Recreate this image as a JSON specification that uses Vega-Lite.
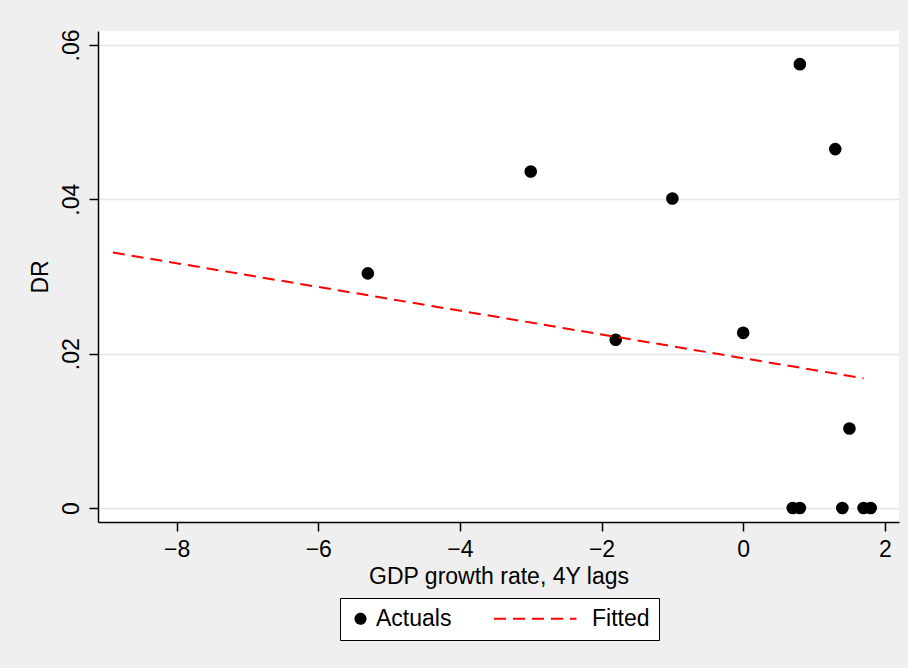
{
  "$schema": "https://vega.github.io/schema/vega-lite/v6.json",
  "width": 801,
  "height": 491,
  "autosize": {"type": "none"},
  "padding": {"left": 98, "top": 31, "right": 9, "bottom": 146},
  "background": "#efefef",
  "config": {
    "view": {"stroke": null, "fill": "white"},
    "font": "Liberation Sans",
    "legend": {
      "orient": "none",
      "legendX": 242,
      "legendY": 567,
      "direction": "horizontal",
      "labelFontSize": 23,
      "labelColor": "black",
      "labelFont": "Liberation Sans",
      "strokeColor": "black",
      "fillColor": "white",
      "padding": 9,
      "columnPadding": 38,
      "symbolStrokeWidth": 2,
      "labelOffset": 4,
      "titleFontSize": 0
    }
  },
  "datasets": {
    "actuals": [
      {"gdp": -5.3, "dr": 0.0304, "series": "Actuals"},
      {"gdp": -3.0, "dr": 0.0436, "series": "Actuals"},
      {"gdp": -1.0, "dr": 0.0401, "series": "Actuals"},
      {"gdp": -1.8, "dr": 0.0218, "series": "Actuals"},
      {"gdp": 0.0, "dr": 0.0227, "series": "Actuals"},
      {"gdp": 0.8, "dr": 0.0575, "series": "Actuals"},
      {"gdp": 1.3, "dr": 0.0465, "series": "Actuals"},
      {"gdp": 1.5, "dr": 0.0103, "series": "Actuals"},
      {"gdp": 0.7, "dr": 0.0, "series": "Actuals"},
      {"gdp": 0.8, "dr": 0.0, "series": "Actuals"},
      {"gdp": 1.4, "dr": 0.0, "series": "Actuals"},
      {"gdp": 1.7, "dr": 0.0, "series": "Actuals"},
      {"gdp": 1.8, "dr": 0.0, "series": "Actuals"}
    ],
    "fitted": [
      {"gdp": -8.9, "dr": 0.0331, "series": "Fitted"},
      {"gdp": 1.7, "dr": 0.0168, "series": "Fitted"}
    ]
  },
  "encoding": {
    "x": {
      "field": "gdp",
      "type": "quantitative",
      "title": "GDP growth rate, 4Y lags",
      "scale": {"domain": [-9.11, 2.2], "nice": false, "zero": false},
      "axis": {
        "values": [-8, -6, -4, -2, 0, 2],
        "grid": false,
        "domainColor": "black",
        "domainWidth": 1.5,
        "tickColor": "black",
        "tickWidth": 1.5,
        "tickSize": 9,
        "labelFontSize": 23,
        "labelColor": "black",
        "labelPadding": 7,
        "titleFontSize": 23,
        "titleFontWeight": "normal",
        "titleColor": "black",
        "titlePadding": 4
      }
    },
    "y": {
      "field": "dr",
      "type": "quantitative",
      "title": "DR",
      "scale": {"domain": [-0.00181, 0.0618], "nice": false, "zero": false},
      "axis": {
        "values": [0, 0.02, 0.04, 0.06],
        "labelExpr": "replace(format(datum.value, '.2~f'), /^0\\./, '.')",
        "grid": true,
        "gridColor": "#e6e6e6",
        "gridWidth": 1.5,
        "domainColor": "black",
        "domainWidth": 1.5,
        "tickColor": "black",
        "tickWidth": 1.5,
        "tickSize": 9,
        "labelFontSize": 23,
        "labelColor": "black",
        "labelAngle": -90,
        "labelAlign": "center",
        "labelBaseline": "bottom",
        "labelPadding": 6,
        "titleFontSize": 23,
        "titleFontWeight": "normal",
        "titleColor": "black",
        "titlePadding": 8
      }
    }
  },
  "layer": [
    {
      "data": {"name": "actuals"},
      "mark": {"type": "point", "filled": true, "opacity": 1, "size": 160},
      "encoding": {
        "color": {"field": "series", "type": "nominal", "title": null, "scale": {"domain": ["Actuals", "Fitted"], "range": ["black", "red"]}},
        "shape": {"field": "series", "type": "nominal", "title": null, "scale": {"domain": ["Actuals", "Fitted"], "range": ["circle", "M-16.5,0H0"]}}
      }
    },
    {
      "data": {"name": "fitted"},
      "mark": {"type": "line", "strokeWidth": 2},
      "encoding": {
        "color": {"field": "series", "type": "nominal", "title": null},
        "strokeDash": {"field": "series", "type": "nominal", "title": null, "scale": {"domain": ["Actuals", "Fitted"], "range": [[1, 0], [12, 7]]}}
      }
    }
  ]
}
